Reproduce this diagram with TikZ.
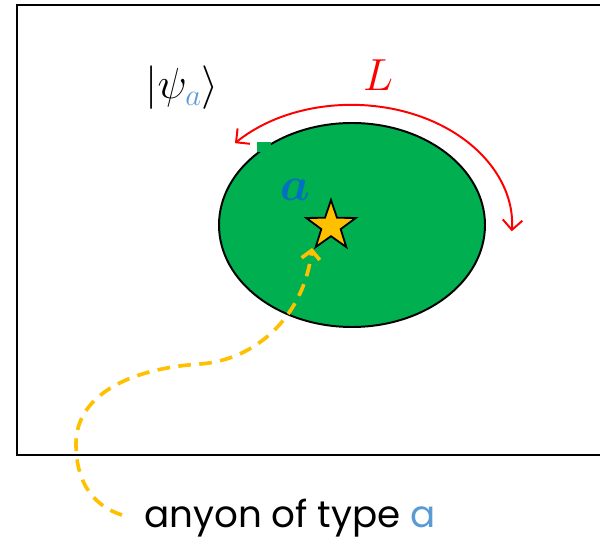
\RequirePackage{fix-cm}
\documentclass[tikz,border=0pt]{standalone}
\usepackage{fontspec}
\usepackage{amsmath}
\usetikzlibrary{arrows.meta, calc, shapes.geometric}

\newfontfamily\gothic{Poppins}
\definecolor{blobgreen}{HTML}{00B050}
\definecolor{anyonyellow}{HTML}{FFC000}
\definecolor{typeblue}{HTML}{0070C0}
\definecolor{lightblue}{HTML}{5B9BD5}

\begin{document}
\begin{tikzpicture}[>={Straight Barb[length=7pt, width=14pt]},
    loopline/.style={red, line width=1.4pt},
    worldline/.style={anyonyellow, line width=2.6pt, dash pattern=on 9pt off 6pt}]

% Fix the page to the reference size
\useasboundingbox (0,0) rectangle (15,13.5);

% Frame (the right side runs off the page)
\draw[line width=1.4pt] (15.1,13.375) -- (0.425,13.375) -- (0.425,2.125) -- (15.1,2.125);

% Region around the anyon
\coordinate (c) at (8.8,7.875);
\draw[line width=1.4pt, fill=blobgreen] (c) ellipse (3.325cm and 2.55cm);
\fill[blobgreen] (6.425,9.7) rectangle (6.775,9.95);

% State label
\node (psi) at (4.55,11.3) {\fontsize{31}{36}\selectfont $|\psi_{\color{lightblue}a}\rangle$};

% Wilson loop L around the region
\draw[loopline, <->] ($(c)+(137:4 and 3)$) arc[start angle=137, end angle=-3, x radius=4cm, y radius=3cm];
\node[red] (L) at (9.45,11.625) {\fontsize{32}{36}\selectfont $L$};

% The anyon
\node[star, star points=5, star point ratio=2.55, minimum size=1.3cm, inner sep=0pt,
      draw=black, line width=1.3pt, fill=anyonyellow] (anyon) at (8.275,7.85) {};
\node[text=typeblue] (a) at (7.375,8.75) {\fontsize{34}{38}\selectfont $\boldsymbol{a}$};

% Caption and its dashed world line
\node[anchor=west, inner sep=0pt] (caption) at (3.6,0.55)
    {\gothic\fontsize{26.5}{31}\selectfont anyon of type {\color{lightblue}a}};
\coordinate (start) at (3.05,0.625);
\coordinate (tip) at (7.8,7.3);
\draw[worldline, ->, >={Straight Barb[length=6pt, width=13pt]}] (start)
    .. controls (2.2,0.9) and (1.9,1.6) .. (1.9,2.4)
    .. controls (1.9,3.7) and (3.4,4.3) .. (5.0,4.4)
    .. controls (6.4,4.5) and (7.6,5.6) .. (tip);

\end{tikzpicture}
\end{document}
